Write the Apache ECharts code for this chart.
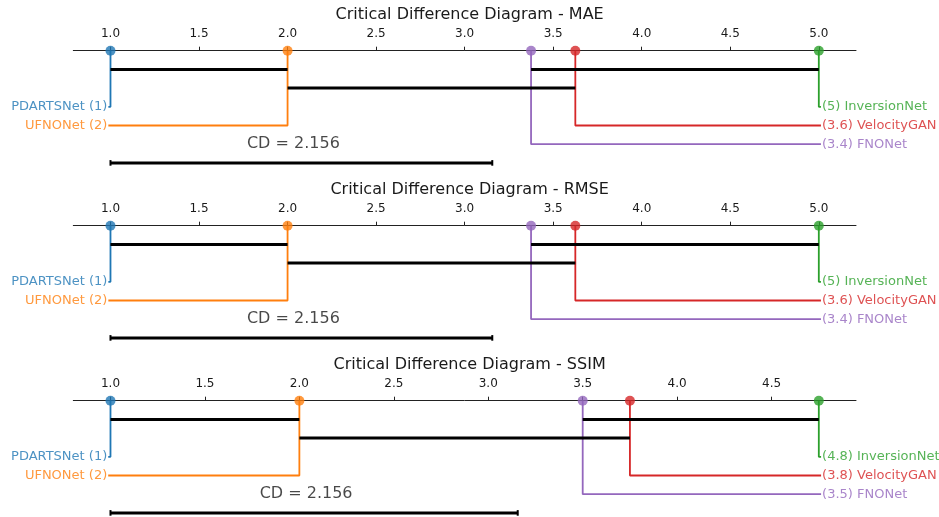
<!DOCTYPE html>
<html>
<head>
<meta charset="utf-8">
<script src="https://cdn.jsdelivr.net/npm/echarts@6/dist/echarts.min.js"></script>
<style>
  html, body { margin: 0; padding: 0; background: #fff; }
  #main { width: 939px; height: 517px; }
</style>
</head>
<body>
<div id="main"></div>
<script>
// methods and their colours (same order everywhere)
var methods = ['PDARTSNet', 'UFNONet', 'FNONet', 'VelocityGAN', 'InversionNet'];
var methodColors = ['#1f77b4', '#ff7f0e', '#9467bd', '#d62728', '#2ca02c'];

var metrics = ['MAE', 'RMSE', 'SSIM'];

// average ranks, same order as methods
var ranksMAE = [1, 2, 3.375, 3.625, 5];
var ranksRMSE = [1, 2, 3.375, 3.625, 5];
var ranksSSIM = [1, 2, 3.5, 3.75, 4.75];

// rank text printed next to the names
var rankTextMAE = ['1', '2', '3.4', '3.6', '5'];
var rankTextRMSE = ['1', '2', '3.4', '3.6', '5'];
var rankTextSSIM = ['1', '2', '3.5', '3.8', '4.8'];

// groups with no significant difference (indices into methods)
var cliquesMAE = [[0, 1], [1, 2, 3], [2, 3, 4]];
var cliquesRMSE = [[0, 1], [1, 2, 3], [2, 3, 4]];
var cliquesSSIM = [[0, 1], [1, 2, 3], [2, 3, 4]];

// tick labels on the top axis
var ticksMAE = [1.0, 1.5, 2.0, 2.5, 3.0, 3.5, 4.0, 4.5, 5.0];
var ticksRMSE = [1.0, 1.5, 2.0, 2.5, 3.0, 3.5, 4.0, 4.5, 5.0];
var ticksSSIM = [1.0, 1.5, 2.0, 2.5, 3.0, 3.5, 4.0, 4.5];

var cdValue = 2.156;

var allRanks = [ranksMAE, ranksRMSE, ranksSSIM];
var allRankText = [rankTextMAE, rankTextRMSE, rankTextSSIM];
var allCliques = [cliquesMAE, cliquesRMSE, cliquesSSIM];
var allTicks = [ticksMAE, ticksRMSE, ticksSSIM];

var FONT = 'DejaVu Sans';
var panelH = 175;
var rowPx = 18.7;
var gridLeft = 73.3;
var gridRight = 83;

var chart = echarts.init(document.getElementById('main'));

var titles = [];
var grids = [];
var xAxes = [];
var yAxes = [];
var series = [];

function lineSeries(idx, data, color, width, z) {
  return {
    type: 'line',
    xAxisIndex: idx,
    yAxisIndex: idx,
    data: data,
    symbol: 'none',
    clip: false,
    silent: true,
    lineStyle: { color: color, width: width, cap: 'butt' },
    z: z
  };
}

metrics.forEach(function (metric, p) {
  var ranks = allRanks[p];
  var rText = allRankText[p];
  var top = p * panelH;
  var lo = Math.min.apply(null, ranks);
  var hi = Math.max.apply(null, ranks);
  var pad = (hi - lo) * 0.0525;

  titles.push({
    text: 'Critical Difference Diagram - ' + metric,
    left: gridLeft + (939 - gridLeft - gridRight) / 2,
    textAlign: 'center',
    top: top + 2,
    textStyle: { fontFamily: FONT, fontSize: 16, fontWeight: 'normal', color: '#1a1a1a' }
  });

  grids.push({ left: gridLeft, right: gridRight, top: top + 50.7, height: rowPx * 6 });

  xAxes.push({
    type: 'value',
    gridIndex: p,
    position: 'top',
    min: lo - pad,
    max: hi + pad,
    splitLine: { show: false },
    axisLine: { lineStyle: { color: '#222', width: 1 } },
    axisTick: { customValues: allTicks[p], length: 4, lineStyle: { color: '#222' } },
    axisLabel: {
      customValues: allTicks[p],
      formatter: function (v) { return v.toFixed(1); },
      fontFamily: FONT, fontSize: 12, color: '#1a1a1a', margin: 11
    }
  });
  yAxes.push({ type: 'value', gridIndex: p, min: 0, max: 6, inverse: true, show: false });

  // sort methods by rank: lower half goes to the left, rest to the right
  var order = ranks.map(function (r, i) { return i; }).sort(function (a, b) { return ranks[a] - ranks[b]; });
  var nLeft = Math.floor(order.length / 2);
  var leftSide = order.slice(0, nLeft);
  var rightSide = order.slice(nLeft).reverse();
  var foot = 0.012;

  var labelData = [];
  leftSide.forEach(function (m, k) {
    var row = 3 + k;
    var endX = lo - foot;
    series.push(lineSeries(p, [[ranks[m], 0], [ranks[m], row], [endX, row]], methodColors[m], 1.8, 2));
    labelData.push({
      value: [endX, row],
      label: { position: 'left', formatter: methods[m] + ' (' + rText[m] + ')', color: methodColors[m] }
    });
  });
  rightSide.forEach(function (m, k) {
    var row = 3 + k;
    var endX = hi + foot;
    series.push(lineSeries(p, [[ranks[m], 0], [ranks[m], row], [endX, row]], methodColors[m], 1.8, 2));
    labelData.push({
      value: [endX, row],
      label: { position: 'right', formatter: '(' + rText[m] + ') ' + methods[m], color: methodColors[m] }
    });
  });

  // clique bars, stacked on levels so touching bars do not overlap
  var bars = allCliques[p].map(function (c) {
    var rs = c.map(function (m) { return ranks[m]; });
    return [Math.min.apply(null, rs), Math.max.apply(null, rs)];
  }).sort(function (a, b) { return a[0] - b[0]; });
  var levelEnds = [];
  bars.forEach(function (b) {
    var lvl = 0;
    while (lvl < levelEnds.length && b[0] <= levelEnds[lvl]) lvl++;
    levelEnds[lvl] = b[1];
    series.push(lineSeries(p, [[b[0], lvl + 1], [b[1], lvl + 1]], '#000', 3, 4));
  });

  // rank points on the axis
  series.push({
    type: 'scatter',
    xAxisIndex: p,
    yAxisIndex: p,
    symbolSize: 10,
    clip: false,
    silent: true,
    z: 6,
    data: ranks.map(function (r, i) {
      return { value: [r, 0], itemStyle: { color: methodColors[i] } };
    })
  });

  // method labels
  series.push({
    type: 'scatter',
    xAxisIndex: p,
    yAxisIndex: p,
    symbolSize: 0,
    clip: false,
    silent: true,
    label: { show: true, distance: 1, fontFamily: FONT, fontSize: 13 },
    data: labelData
  });

  // critical difference bar
  series.push(lineSeries(p, [[lo, 6], [lo + cdValue, 6]], '#000', 3, 4));
  series.push(lineSeries(p, [[lo, 5.85], [lo, 6.15]], '#000', 2, 4));
  series.push(lineSeries(p, [[lo + cdValue, 5.85], [lo + cdValue, 6.15]], '#000', 2, 4));
  series.push({
    type: 'scatter',
    xAxisIndex: p,
    yAxisIndex: p,
    symbolSize: 0,
    clip: false,
    silent: true,
    label: {
      show: true, position: 'inside', offset: [-8, 0],
      formatter: 'CD = ' + cdValue, fontFamily: FONT, fontSize: 16, color: '#1a1a1a'
    },
    data: [[lo + cdValue / 2, 5]]
  });
});

chart.setOption({
  animation: false,
  backgroundColor: '#fff',
  title: titles,
  grid: grids,
  xAxis: xAxes,
  yAxis: yAxes,
  series: series
});
</script>
</body>
</html>
